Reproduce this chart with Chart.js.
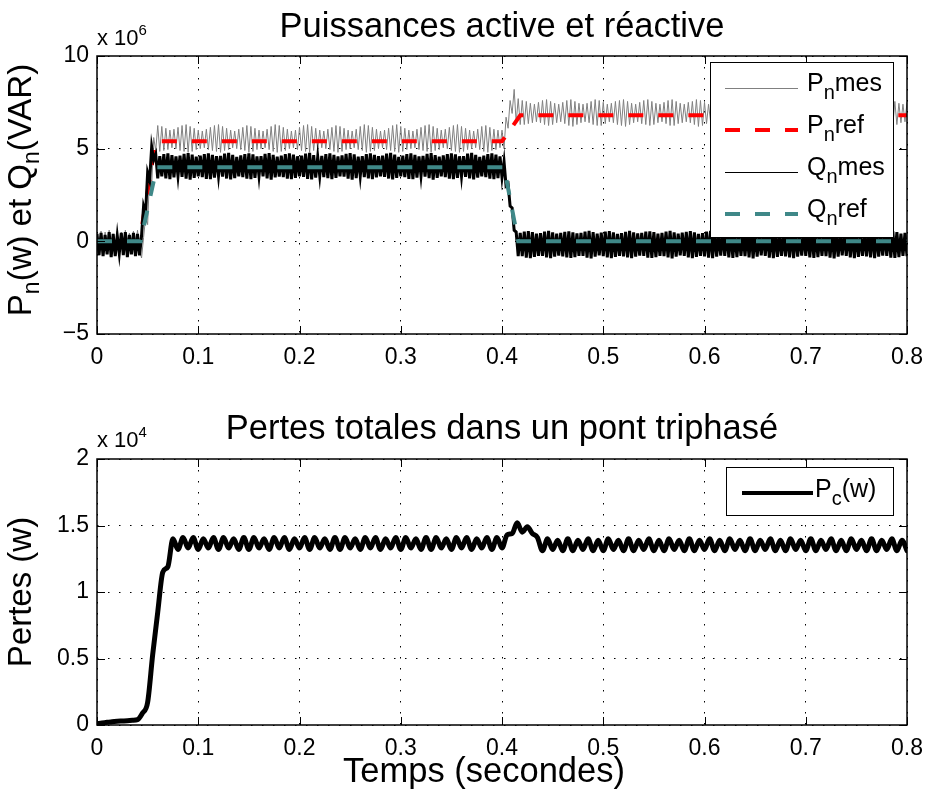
<!DOCTYPE html>
<html><head><meta charset="utf-8">
<script src="https://cdn.jsdelivr.net/npm/chart.js@4.4.1/dist/chart.umd.min.js"></script>
<style>
html,body{margin:0;padding:0;background:#fff;}
#wrap{position:relative;width:933px;height:795px;}
#c1{position:absolute;left:0;top:0;}
#c2{position:absolute;left:0;top:390px;}
</style></head>
<body><div id="wrap"><canvas id="c1" width="933" height="390"></canvas><canvas id="c2" width="933" height="405"></canvas></div>
<script>
// ---------- DATA ----------
// Top plot: sampling step of measured signals (s), values in units of 1e6
const DT_MES = 0.002;
const pMes = [
0.45,-0.40,0.55,-0.50,0.50,-0.35,0.60,-0.45,0.40,-0.50,0.55,-0.40,0.50,-0.45,0.60,-0.35,0.45,-0.50,0.55,-0.40,0.60,-0.45,
-0.90,0.20,1.30,0.90,3.70,3.00,5.60,4.90,
6.25,4.85,6.20,4.90,6.10,4.95,6.00,5.05,6.05,5.00,6.15,4.90,6.25,4.85,6.30,4.80,6.20,4.85,6.10,4.95,6.00,5.00,5.95,5.05,
6.05,4.95,6.15,4.90,6.25,4.85,6.30,4.80,6.20,4.90,6.10,4.95,6.00,5.05,5.95,5.00,6.05,4.95,6.15,4.90,6.25,4.80,6.20,4.85,
6.10,4.95,6.00,5.00,5.95,5.05,6.05,4.95,6.20,4.85,6.30,4.80,6.25,4.85,6.15,4.90,6.05,5.00,5.95,5.05,6.00,4.95,6.15,4.90,
6.25,4.85,6.30,4.80,6.20,4.90,6.10,4.95,6.00,5.05,5.95,5.00,6.05,4.95,6.15,4.85,6.25,4.80,6.20,4.85,6.10,4.95,6.00,5.00,
5.95,5.05,6.05,4.95,6.20,4.90,6.30,4.80,6.25,4.85,6.15,4.90,6.05,5.00,5.95,5.05,6.00,4.95,6.10,4.90,6.25,4.85,6.30,4.80,
6.20,4.85,6.10,4.95,6.00,5.00,5.95,5.05,6.05,4.95,6.15,4.90,6.25,4.85,6.30,4.80,6.20,4.90,6.10,4.95,6.00,5.05,6.05,5.00,
6.15,4.90,6.25,4.85,6.30,4.80,6.20,4.85,6.10,4.95,6.00,5.00,5.95,5.05,6.05,4.95,6.20,4.85,6.25,4.80,6.15,4.90,6.05,4.95,
6.00,5.05,6.00,
5.00,6.70,6.10,7.60,6.90,8.20,6.40,7.70,6.30,
7.60,6.30,7.55,6.35,7.45,6.40,7.40,6.45,7.50,6.40,7.60,6.30,7.65,6.25,7.55,6.30,7.45,6.40,7.40,6.45,7.50,6.35,7.60,6.25,
7.65,6.20,7.55,6.30,7.45,6.40,7.40,6.45,7.45,6.40,7.55,6.30,7.65,6.25,7.60,6.25,7.50,6.35,7.40,6.45,7.45,6.40,7.55,6.30,
7.60,6.25,7.65,6.20,7.55,6.30,7.45,6.40,7.40,6.45,7.50,6.35,7.60,6.30,7.65,6.25,7.55,6.30,7.45,6.40,7.40,6.45,7.50,6.35,
7.60,6.25,7.65,6.25,7.55,6.35,7.45,6.40,7.40,6.45,7.50,6.40,7.55,6.30,7.65,6.20,7.60,6.25,7.50,6.35,7.40,6.45,7.45,6.40,
7.55,6.30,7.65,6.25,7.60,6.25,7.50,6.35,7.40,6.45,7.45,6.40,7.55,6.30,7.65,6.20,7.60,6.30,7.45,6.40,7.40,6.45,7.50,6.35,
7.60,6.25,7.65,6.20,7.55,6.30,7.45,6.40,7.40,6.45,7.50,6.35,7.60,6.25,7.65,6.25,7.55,6.35,7.45,6.40,7.40,6.45,7.50,6.40,
7.55,6.30,7.65,6.25,7.60,6.25,7.50,6.35,7.40,6.45,7.45,6.40,7.55,6.30,7.65,6.20,7.55,6.30,7.45,6.40,7.40,6.45,7.50,6.35,
7.60,6.25,7.65,6.20,7.55,6.30,7.45,6.40,7.40,6.45,7.50,6.35,7.60,6.30,7.65,6.25,7.55,6.30,7.45,6.40,7.40,6.45,
7.50
];
const qMes = [
0.40,-0.75,0.45,-0.80,0.35,-0.70,0.50,-0.85,0.40,-0.80,0.30,-0.65,0.45,-0.75,0.50,-0.85,0.35,-0.70,0.45,-0.80,0.40,-0.75,
0.30,1.90,1.50,3.70,3.30,5.10,4.40,4.70,3.40,
4.60,3.50,4.70,3.40,4.75,3.35,4.65,3.45,4.58,3.52,
4.62,3.48,4.72,3.38,4.76,3.33,4.68,3.42,4.57,3.50,
4.63,3.47,4.71,3.37,4.74,3.36,4.66,3.44,4.59,3.53,
4.61,3.49,4.73,3.39,4.77,3.34,4.67,3.41,4.56,3.51,
4.64,3.46,4.70,3.38,4.75,3.35,4.69,3.43,4.58,3.52,
4.60,3.50,4.72,3.40,4.76,3.33,4.66,3.45,4.57,3.49,
4.62,3.47,4.71,3.39,4.74,3.36,4.68,3.42,4.59,3.51,
4.63,3.48,4.73,3.37,4.77,3.34,4.65,3.44,4.56,3.53,
4.61,3.46,4.70,3.41,4.75,3.35,4.67,3.43,4.58,3.50,
4.64,3.49,4.72,3.38,4.76,3.33,4.69,3.41,4.57,3.52,
4.60,3.47,4.71,3.40,4.74,3.36,4.66,3.45,4.59,3.51,
4.62,3.48,4.73,3.39,4.77,3.34,4.68,3.42,4.56,3.50,
4.63,3.46,4.70,3.37,4.75,3.35,4.67,3.44,4.58,3.53,
4.61,3.49,4.72,3.41,4.76,3.33,4.65,3.43,4.57,3.51,
4.64,3.47,4.71,3.38,4.74,3.36,4.69,3.42,4.59,3.52,
4.60,3.48,4.73,3.40,4.77,3.34,4.66,3.44,4.56,3.50,
4.62,3.46,4.70,3.39,4.75,3.35,4.68,3.41,4.58,3.45,
4.30,3.00,3.10,1.90,1.80,0.60,0.50,-0.80,
0.45,-0.80,0.52,-0.88,0.55,-0.90,0.50,-0.84,0.42,-0.78,
0.44,-0.79,0.53,-0.87,0.56,-0.91,0.49,-0.83,0.41,-0.77,
0.46,-0.81,0.51,-0.86,0.54,-0.89,0.48,-0.85,0.43,-0.79,
0.45,-0.78,0.52,-0.88,0.57,-0.92,0.50,-0.83,0.42,-0.76,
0.47,-0.80,0.53,-0.86,0.55,-0.90,0.49,-0.84,0.40,-0.78,
0.44,-0.81,0.51,-0.87,0.56,-0.91,0.48,-0.82,0.43,-0.77,
0.46,-0.79,0.52,-0.88,0.54,-0.89,0.50,-0.85,0.41,-0.79,
0.45,-0.80,0.53,-0.86,0.57,-0.92,0.49,-0.83,0.42,-0.76,
0.47,-0.78,0.51,-0.87,0.55,-0.90,0.48,-0.84,0.40,-0.78,
0.44,-0.81,0.52,-0.88,0.56,-0.91,0.50,-0.82,0.43,-0.77,
0.46,-0.79,0.53,-0.86,0.54,-0.89,0.49,-0.85,0.41,-0.79,
0.45,-0.80,0.51,-0.87,0.57,-0.92,0.48,-0.83,0.42,-0.76,
0.47,-0.78,0.52,-0.88,0.55,-0.90,0.50,-0.84,0.40,-0.78,
0.44,-0.81,0.53,-0.86,0.56,-0.91,0.49,-0.82,0.43,-0.77,
0.46,-0.79,0.51,-0.87,0.54,-0.89,0.48,-0.85,0.41,-0.79,
0.45,-0.80,0.52,-0.88,0.57,-0.92,0.50,-0.83,0.42,-0.76,
0.47,-0.78,0.53,-0.86,0.55,-0.90,0.49,-0.84,0.40,-0.78,
0.44,-0.81,0.51,-0.87,0.56,-0.91,0.48,-0.82,0.43,-0.77,
0.46,-0.79,0.52,-0.88,0.54,-0.89,0.50,-0.85,0.41,-0.79,
0.45,-0.80
];
const tPRef = [0, 0.042, 0.058, 0.400, 0.418, 0.8];
const pRef  = [0, 0, 5.4, 5.4, 6.8, 6.8];
const tQRef = [0, 0.043, 0.059, 0.402, 0.416, 0.8];
const qRef  = [0, 0, 4.0, 4.0, 0, 0];

// Bottom plot: losses, units of 1e4 W
const DT_PC = 0.005;
const pc = [
0.010,0.015,0.020,0.025,0.028,0.030,0.032,0.035,0.040,0.090,0.170,0.530,0.850,1.150,1.190,1.400,
1.32,1.41,1.33,1.41,1.32,1.40,1.33,1.41,1.32,1.41,
1.33,1.40,1.32,1.41,1.32,1.41,1.33,1.40,1.32,1.41,
1.33,1.41,1.32,1.40,1.33,1.41,1.32,1.41,1.33,1.40,
1.32,1.41,1.32,1.41,1.33,1.40,1.32,1.41,1.33,1.41,
1.32,1.40,1.33,1.41,1.32,1.41,1.33,1.40,1.32,1.41,
1.32,1.41,1.33,1.40,1.32,1.41,1.33,1.41,1.32,1.40,
1.33,1.41,1.32,1.41,1.33,
1.43,1.44,1.52,1.45,1.49,1.44,1.41,
1.31,1.40,1.32,1.39,1.31,1.40,1.31,1.39,1.32,1.40,
1.31,1.39,1.31,1.40,1.32,1.39,1.31,1.40,1.31,1.39,
1.32,1.40,1.31,1.39,1.31,1.40,1.32,1.39,1.31,1.40,
1.31,1.39,1.32,1.40,1.31,1.39,1.31,1.40,1.32,1.39,
1.31,1.40,1.31,1.39,1.32,1.40,1.31,1.39,1.31,1.40,
1.32,1.39,1.31,1.40,1.31,1.39,1.32,1.40,1.31,1.39,
1.31,1.40,1.32,1.39,1.31,1.40,1.31,1.39,1.32,1.40,
1.31,1.39,1.31
];
const xTicks = [0,0.1,0.2,0.3,0.4,0.5,0.6,0.7,0.8];
const yTicksTop = [-5,0,5,10];
const yTicksBot = [0,0.5,1,1.5,2];

// ---------- HELPERS ----------
const FONT = '"Liberation Sans", Arial, Helvetica, sans-serif';
const sampled = (arr, dt) => arr.map((v,i)=>({x: +(i*dt).toFixed(4), y: v}));
const paired = (ts, vs) => vs.map((v,i)=>({x: ts[i], y: v}));

function richWidth(ctx, parts){
  let w=0; for(const p of parts){ ctx.font = p[1]+'px '+FONT; w += ctx.measureText(p[0]).width; } return w;
}
function drawRich(ctx, parts, x, y){
  let cx=x;
  for(const p of parts){ ctx.font = p[1]+'px '+FONT; ctx.fillText(p[0], cx, y + (p[2]||0)); cx += ctx.measureText(p[0]).width; }
}

const decor = {
  id:'decor',
  afterDraw(chart, args, o){
    const ctx = chart.ctx, a = chart.chartArea;
    ctx.save();
    ctx.fillStyle='#000'; ctx.strokeStyle='#000';
    // inward tick marks
    ctx.lineWidth=1;
    const xs = chart.scales.x, ys = chart.scales.y;
    ctx.beginPath();
    for(const t of o.xt){ const px = Math.round(xs.getPixelForValue(t))+0.5;
      ctx.moveTo(px,a.bottom); ctx.lineTo(px,a.bottom-8); ctx.moveTo(px,a.top); ctx.lineTo(px,a.top+8); }
    for(const t of o.yt){ const py = Math.round(ys.getPixelForValue(t))+0.5;
      ctx.moveTo(a.left,py); ctx.lineTo(a.left+8,py); ctx.moveTo(a.right,py); ctx.lineTo(a.right-8,py); }
    ctx.stroke();
    // box
    ctx.lineWidth=1.5;
    ctx.strokeRect(a.left, a.top, a.right-a.left, a.bottom-a.top);
    // title
    ctx.textBaseline='alphabetic';
    ctx.textAlign='center';
    ctx.font = '34.5px '+FONT;
    ctx.fillText(o.title, (a.left+a.right)/2, o.titleY);
    if(o.xlabel){ ctx.fillText(o.xlabel, o.xlabelX, o.xlabelY); }
    ctx.textAlign='left';
    // exponent
    drawRich(ctx, [['x 10',22,0],[o.expo,15,-10]], a.left, o.expoY);
    // y label rotated
    ctx.save();
    ctx.translate(o.ylabX, o.ylabY);
    ctx.rotate(-Math.PI/2);
    const w = richWidth(ctx, o.ylabel);
    drawRich(ctx, o.ylabel, -w/2, 0);
    ctx.restore();
    // legend
    const L = o.legend;
    ctx.fillStyle='#fff';
    ctx.fillRect(L.x, L.y, L.w, L.h);
    ctx.lineWidth=1; ctx.strokeStyle='#000';
    ctx.strokeRect(L.x+0.5, L.y+0.5, L.w, L.h);
    L.items.forEach((it,k)=>{
      const base = L.y + L.firstBase + k*L.step;
      const ds = chart.data.datasets[it.ds];
      const lw = it.lw || ds.borderWidth;
      const ly = (lw%2===1) ? Math.round(base-L.lineUp)+0.5 : Math.round(base-L.lineUp);
      ctx.save();
      ctx.strokeStyle = ds.borderColor; ctx.lineWidth = lw;
      ctx.setLineDash(ds.borderDash||[]);
      ctx.beginPath(); ctx.moveTo(L.x+L.sx0, ly); ctx.lineTo(L.x+L.sx1, ly); ctx.stroke();
      ctx.restore();
      ctx.fillStyle='#000';
      drawRich(ctx, it.text, L.x+L.tx, base);
    });
    ctx.restore();
  }
};

function axisCommon(min,max,step,fmt,padding){
  return {
    type:'linear', min, max,
    ticks:{ stepSize:step, color:'#000', font:{family:FONT,size:23}, padding, autoSkip:false, maxRotation:0,
      callback:(v)=>fmt(v) },
    grid:{ color:'#000', lineWidth:1, drawTicks:false },
    border:{ display:false, dash:[1.5,9.5] }
  };
}
const fmtX = v => (Math.abs(v)<1e-9 ? '0' : (+v.toFixed(1)).toString());
const fmtY = v => { const r = +v.toFixed(1); return r<0 ? '\u2212'+Math.abs(r) : String(r); };

Chart.defaults.font.family = FONT;

// ---------- TOP CHART ----------
new Chart(document.getElementById('c1'), {
  type:'line',
  data:{ datasets:[
    { label:'Qnref', data: paired(tQRef,qRef), borderColor:'#3f8888', borderWidth:4, borderDash:[15,15], pointRadius:0, order:0 },
    { label:'Qnmes', data: sampled(qMes,DT_MES), borderColor:'#000', borderWidth:3, pointRadius:0, order:1 },
    { label:'Pnref', data: paired(tPRef,pRef), borderColor:'#ff0000', borderWidth:4, borderDash:[15,15], pointRadius:0, order:2 },
    { label:'Pnmes', data: sampled(pMes,DT_MES), borderColor:'#808080', borderWidth:1, pointRadius:0, order:3 }
  ]},
  options:{
    responsive:false, animation:false, devicePixelRatio:1,
    layout:{ padding:{left:0,right:23,top:56,bottom:0} },
    plugins:{ legend:{display:false}, tooltip:{enabled:false},
      decor:{ title:'Puissances active et réactive', titleY:37, expo:'6', expoY:45,
        xt:xTicks, yt:yTicksTop,
        ylabel:[['P',33,0],['n',23,8],['(w) et Q',33,0],['n',23,8],['(VAR)',33,0]], ylabX:31, ylabY:190,
        legend:{ x:710, y:62, w:183, h:175, firstBase:29, step:42, lineUp:3, sx0:15, sx1:88, tx:97,
          items:[
            {ds:3, text:[['P',25,0],['n',20,8],['mes',25,0]]},
            {ds:2, text:[['P',25,0],['n',20,8],['ref',25,0]]},
            {ds:1, lw:1, text:[['Q',25,0],['n',20,8],['mes',25,0]]},
            {ds:0, text:[['Q',25,0],['n',20,8],['ref',25,0]]}
          ]}
      }
    },
    scales:{
      x: Object.assign(axisCommon(0,0.8,0.1,fmtX,10), { afterFit:(s)=>{ s.height = 56; } }),
      y: Object.assign(axisCommon(-5,10,5,fmtY,8), { afterFit:(s)=>{ s.width = 97; } })
    },
    elements:{ line:{ tension:0, borderCapStyle:'butt', borderJoinStyle:'miter' } }
  },
  plugins:[decor]
});

// ---------- BOTTOM CHART ----------
new Chart(document.getElementById('c2'), {
  type:'line',
  data:{ datasets:[
    { label:'Pc', data: sampled(pc,DT_PC), borderColor:'#000', borderWidth:5, pointRadius:0, cubicInterpolationMode:'monotone', borderJoinStyle:'round', borderCapStyle:'round' }
  ]},
  options:{
    responsive:false, animation:false, devicePixelRatio:1,
    layout:{ padding:{left:0,right:23,top:69,bottom:0} },
    plugins:{ legend:{display:false}, tooltip:{enabled:false},
      decor:{ title:'Pertes totales dans un pont triphasé', titleY:49, expo:'4', expoY:57,
        xlabel:'Temps (secondes)', xlabelX:484, xlabelY:392,
        xt:xTicks, yt:yTicksBot,
        ylabel:[['Pertes (w)',33,0]], ylabX:31, ylabY:202,
        legend:{ x:726, y:77, w:167, h:48, firstBase:30, step:0, lineUp:4, sx0:16, sx1:87, tx:89,
          items:[ {ds:0, lw:4, text:[['P',25,0],['c',20,8],['(w)',25,0]]} ]}
      }
    },
    scales:{
      x: Object.assign(axisCommon(0,0.8,0.1,fmtX,10), { afterFit:(s)=>{ s.height = 70; } }),
      y: Object.assign(axisCommon(0,2,0.5,fmtY,8), { afterFit:(s)=>{ s.width = 97; } })
    }
  },
  plugins:[decor]
});
</script>
</body></html>
